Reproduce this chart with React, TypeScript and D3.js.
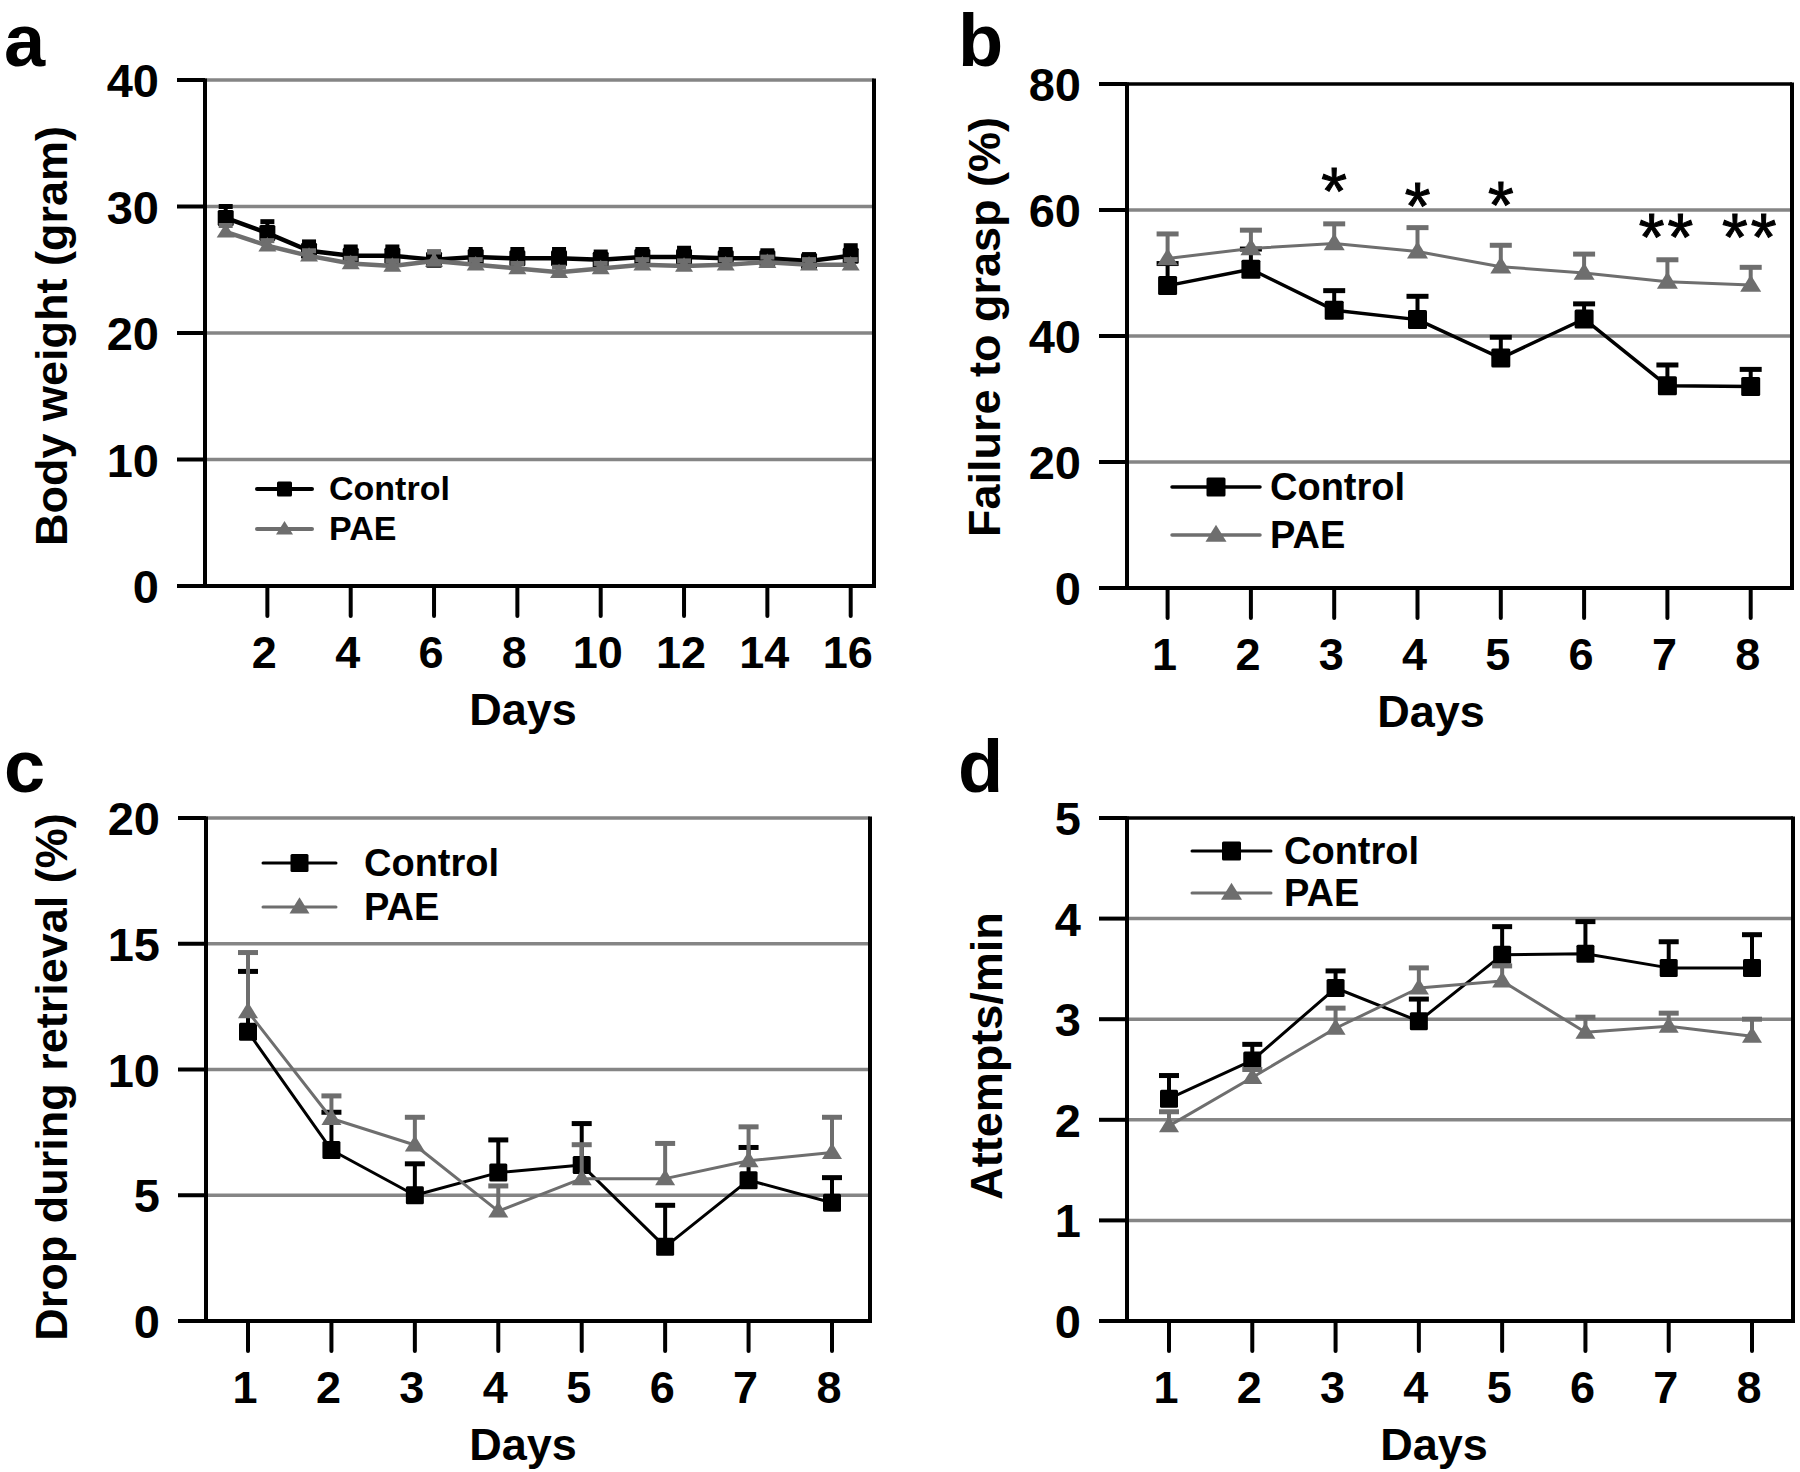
import React from 'react';
import * as d3 from 'd3';

// ---------- Data ----------
const daysA = [1, 2, 3, 4, 5, 6, 7, 8, 9, 10, 11, 12, 13, 14, 15, 16];
const ticksA = [2, 4, 6, 8, 10, 12, 14, 16];
const weightControl = [29.1, 27.9, 26.5, 26.1, 26.1, 25.8, 26.0, 25.9, 25.9, 25.8, 26.0, 26.0, 25.9, 25.9, 25.7, 26.1];
const weightControlErr = [0.9, 0.9, 0.7, 0.7, 0.7, 0.6, 0.6, 0.7, 0.7, 0.6, 0.6, 0.7, 0.7, 0.6, 0.5, 0.8];
const weightPAE = [28.0, 26.9, 26.1, 25.5, 25.3, 25.7, 25.4, 25.1, 24.8, 25.1, 25.4, 25.3, 25.4, 25.6, 25.4, 25.4];
const weightPAEErr = [0.5, 0.4, 0.4, 0.4, 0.4, 0.7, 0.4, 0.4, 0.4, 0.4, 0.4, 0.4, 0.4, 0.4, 0.4, 0.4];

const days8 = [1, 2, 3, 4, 5, 6, 7, 8];

const graspControl = [48.0, 50.6, 44.1, 42.6, 36.5, 42.7, 32.1, 32.0];
const graspControlErr = [3.5, 3.2, 3.1, 3.7, 3.3, 2.4, 3.3, 2.7];
const graspPAE = [52.3, 53.9, 54.7, 53.4, 51.0, 50.0, 48.6, 48.1];
const graspPAEErr = [3.9, 2.9, 3.1, 3.8, 3.4, 3.0, 3.5, 2.8];
const graspStars = ['', '', '*', '*', '*', '', '**', '**'];
const graspStarY = [0, 0, 65.3, 62.8, 63.0, 0, 57.9, 57.9];

const dropControl = [11.5, 6.8, 5.0, 5.9, 6.2, 2.95, 5.6, 4.7];
const dropControlErr = [2.4, 1.5, 1.25, 1.3, 1.65, 1.65, 1.3, 1.0];
const dropPAE = [12.3, 8.05, 7.0, 4.37, 5.66, 5.66, 6.37, 6.7];
const dropPAEErr = [2.35, 0.9, 1.1, 1.0, 1.35, 1.4, 1.35, 1.4];

const attControl = [2.21, 2.59, 3.31, 2.98, 3.64, 3.65, 3.51, 3.51];
const attControlErr = [0.23, 0.16, 0.17, 0.22, 0.28, 0.32, 0.26, 0.33];
const attPAE = [1.94, 2.42, 2.91, 3.31, 3.38, 2.87, 2.93, 2.83];
const attPAEErr = [0.14, 0.08, 0.2, 0.2, 0.15, 0.15, 0.13, 0.17];

const seriesNames = ['Control', 'PAE'];

const FONT = "'Liberation Sans', Arial, Helvetica, sans-serif";
const BLACK = '#000';
const GRAY = '#6e6e6e';
const GRID = '#858585';

type Series = { name: string; values: number[]; errs: number[]; color: string; marker: 'square' | 'tri'; lw: number };

type PanelProps = {
  label: string;
  labelX: number;
  labelY: number;
  left: number;
  right: number;
  top: number;
  bottom: number;
  days: number[];
  xTicks: number[];
  dayRange: [number, number];
  yMax: number;
  yTicks: number[];
  topGray: boolean;
  series: Series[];
  ms: number;
  capW: number;
  yTitle: string;
  yTitleX: number;
  yTitleY: number;
  xTitleX: number;
  legendX1: number;
  legendX2: number;
  legendY1: number;
  legendY2: number;
  legendTextX: number;
  legendFont: number;
  legendLw: number;
  legendMs: number;
  stars?: string[];
  starY?: number[];
};

function Marker({ kind, x, y, s, color }: { kind: string; x: number; y: number; s: number; color: string }) {
  if (kind === 'square') {
    return <rect x={x - s / 2} y={y - s / 2} width={s} height={s} fill={color} rx={1.5} />;
  }
  const h = s * 0.9;
  return (
    <path
      d={`M${x},${y - h * 0.6} L${x - s / 2 - 1},${y + h * 0.4} L${x + s / 2 + 1},${y + h * 0.4} Z`}
      fill={color}
    />
  );
}

function Panel(p: PanelProps) {
  const x = d3.scaleLinear().domain([p.days[0], p.days[p.days.length - 1]]).range(p.dayRange);
  const y = d3.scaleLinear().domain([0, p.yMax]).range([p.bottom, p.top]);
  const line = d3
    .line<number>()
    .x((_, i) => x(p.days[i]))
    .y((v) => y(v));
  const tickLen = 28;
  return (
    <g fontFamily={FONT} fontWeight="bold">
      <text x={p.labelX} y={p.labelY} fontSize={74} fill={BLACK}>
        {p.label}
      </text>
      {/* gridlines */}
      {p.yTicks
        .filter((t) => t > 0 && t < p.yMax)
        .map((t) => (
          <line key={'g' + t} x1={p.left} x2={p.right} y1={y(t)} y2={y(t)} stroke={GRID} strokeWidth={3.5} />
        ))}
      {/* top line */}
      <line x1={p.left} x2={p.right} y1={y(p.yMax)} y2={y(p.yMax)} stroke={p.topGray ? GRID : BLACK} strokeWidth={3.5} />
      {/* spines */}
      <line x1={p.left} x2={p.left} y1={p.top - 1.5} y2={p.bottom} stroke={BLACK} strokeWidth={4} />
      <line x1={p.right} x2={p.right} y1={p.top - 1.5} y2={p.bottom + 1.5} stroke={BLACK} strokeWidth={4} />
      <line x1={p.left - tickLen} x2={p.right + 2} y1={p.bottom} y2={p.bottom} stroke={BLACK} strokeWidth={4} />
      {/* y ticks */}
      {p.yTicks.map((t) => (
        <g key={'yt' + t}>
          <line x1={p.left - tickLen} x2={p.left} y1={y(t)} y2={y(t)} stroke={BLACK} strokeWidth={4} />
          <text x={p.left - 46} y={y(t) + 17} fontSize={47} textAnchor="end" fill={BLACK}>
            {t}
          </text>
        </g>
      ))}
      {/* x ticks */}
      {p.xTicks.map((t) => (
        <g key={'xt' + t}>
          <line x1={x(t)} x2={x(t)} y1={p.bottom} y2={p.bottom + 30} stroke={BLACK} strokeWidth={4} strokeLinecap="round" />
          <text x={x(t) - 3} y={p.bottom + 82} fontSize={45} textAnchor="middle" fill={BLACK}>
            {t}
          </text>
        </g>
      ))}
      {/* titles */}
      <text x={p.xTitleX} y={p.bottom + 139} fontSize={45} textAnchor="middle" fill={BLACK}>
        Days
      </text>
      <text
        transform={`translate(${p.yTitleX},${p.yTitleY}) rotate(-90)`}
        fontSize={45}
        textAnchor="middle"
        fill={BLACK}
      >
        {p.yTitle}
      </text>
      {/* series */}
      {p.series.map((s) => (
        <g key={s.name}>
          <path d={line(s.values) || ''} fill="none" stroke={s.color} strokeWidth={s.lw} strokeLinejoin="round" />
          {s.values.map((v, i) => {
            const xv = x(p.days[i]);
            const ye = y(v + s.errs[i]);
            return (
              <g key={i}>
                <line x1={xv} x2={xv} y1={y(v)} y2={ye} stroke={s.color} strokeWidth={4} />
                <line x1={xv - p.capW / 2} x2={xv + p.capW / 2} y1={ye} y2={ye} stroke={s.color} strokeWidth={5} />
                <Marker kind={s.marker} x={xv} y={y(v)} s={p.ms} color={s.color} />
              </g>
            );
          })}
        </g>
      ))}
      {/* significance stars */}
      {p.stars &&
        p.stars.map((st, i) =>
          st ? (
            <text
              key={'st' + i}
              x={x(p.days[i])}
              y={y(p.starY ? p.starY[i] : 0) + 37}
              fontSize={66}
              fontWeight="normal"
              textAnchor="middle"
              letterSpacing={st.length > 1 ? 3 : 0}
              fill={BLACK}
              stroke={BLACK}
              strokeWidth={1}
            >
              {st}
            </text>
          ) : null
        )}
      {/* legend */}
      {p.series.map((s, i) => {
        const ly = i === 0 ? p.legendY1 : p.legendY2;
        const mx = (p.legendX1 + p.legendX2) / 2;
        return (
          <g key={'lg' + s.name}>
            <line x1={p.legendX1} x2={p.legendX2} y1={ly} y2={ly} stroke={s.color} strokeWidth={p.legendLw} strokeLinecap="round" />
            <Marker kind={s.marker} x={mx} y={ly} s={p.legendMs} color={s.color} />
            <text x={p.legendTextX} y={ly + p.legendFont * 0.33} fontSize={p.legendFont} fill={BLACK}>
              {s.name}
            </text>
          </g>
        );
      })}
    </g>
  );
}

export default function App() {
  return (
    <svg width={1800} height={1472} style={{ display: 'block', position: 'absolute', left: 0, top: 0, background: '#fff' }}>
      <rect x={0} y={0} width={1800} height={1472} fill="#fff" />
      <Panel
        label="a"
        labelX={4}
        labelY={66}
        left={205}
        right={874}
        top={80}
        bottom={586}
        days={daysA}
        xTicks={ticksA}
        dayRange={[225.7, 850.7]}
        yMax={40}
        yTicks={[0, 10, 20, 30, 40]}
        topGray={true}
        series={[
          { name: seriesNames[0], values: weightControl, errs: weightControlErr, color: BLACK, marker: 'square', lw: 4.5 },
          { name: seriesNames[1], values: weightPAE, errs: weightPAEErr, color: GRAY, marker: 'tri', lw: 4.5 },
        ]}
        ms={16}
        capW={14}
        yTitle="Body weight (gram)"
        yTitleX={67}
        yTitleY={336}
        xTitleX={523}
        legendX1={257}
        legendX2={312}
        legendY1={489}
        legendY2={529}
        legendTextX={329}
        legendFont={34}
        legendLw={4}
        legendMs={15}
      />
      <Panel
        label="b"
        labelX={958}
        labelY={66}
        left={1127}
        right={1792}
        top={84}
        bottom={588}
        days={days8}
        xTicks={days8}
        dayRange={[1167.6, 1750.7]}
        yMax={80}
        yTicks={[0, 20, 40, 60, 80]}
        topGray={false}
        series={[
          { name: seriesNames[0], values: graspControl, errs: graspControlErr, color: BLACK, marker: 'square', lw: 3.5 },
          { name: seriesNames[1], values: graspPAE, errs: graspPAEErr, color: GRAY, marker: 'tri', lw: 3 },
        ]}
        ms={19}
        capW={22}
        yTitle="Failure to grasp (%)"
        yTitleX={1000}
        yTitleY={327}
        xTitleX={1431}
        legendX1={1172}
        legendX2={1260}
        legendY1={487}
        legendY2={535}
        legendTextX={1270}
        legendFont={38}
        legendLw={3.5}
        legendMs={19}
        stars={graspStars}
        starY={graspStarY}
      />
      <Panel
        label="c"
        labelX={4}
        labelY={792}
        left={206}
        right={870}
        top={818}
        bottom={1321}
        days={days8}
        xTicks={days8}
        dayRange={[248, 832]}
        yMax={20}
        yTicks={[0, 5, 10, 15, 20]}
        topGray={true}
        series={[
          { name: seriesNames[0], values: dropControl, errs: dropControlErr, color: BLACK, marker: 'square', lw: 3 },
          { name: seriesNames[1], values: dropPAE, errs: dropPAEErr, color: GRAY, marker: 'tri', lw: 3 },
        ]}
        ms={18}
        capW={20}
        yTitle="Drop during retrieval (%)"
        yTitleX={67}
        yTitleY={1077}
        xTitleX={523}
        legendX1={263}
        legendX2={336}
        legendY1={863}
        legendY2={907}
        legendTextX={364}
        legendFont={38}
        legendLw={3}
        legendMs={18}
      />
      <Panel
        label="d"
        labelX={958}
        labelY={792}
        left={1127}
        right={1793}
        top={818}
        bottom={1321}
        days={days8}
        xTicks={days8}
        dayRange={[1169, 1752]}
        yMax={5}
        yTicks={[0, 1, 2, 3, 4, 5]}
        topGray={false}
        series={[
          { name: seriesNames[0], values: attControl, errs: attControlErr, color: BLACK, marker: 'square', lw: 3 },
          { name: seriesNames[1], values: attPAE, errs: attPAEErr, color: GRAY, marker: 'tri', lw: 3 },
        ]}
        ms={18}
        capW={20}
        yTitle="Attempts/min"
        yTitleX={1002}
        yTitleY={1056}
        xTitleX={1434}
        legendX1={1192}
        legendX2={1271}
        legendY1={851}
        legendY2={893}
        legendTextX={1284}
        legendFont={38}
        legendLw={3}
        legendMs={19}
      />
    </svg>
  );
}
